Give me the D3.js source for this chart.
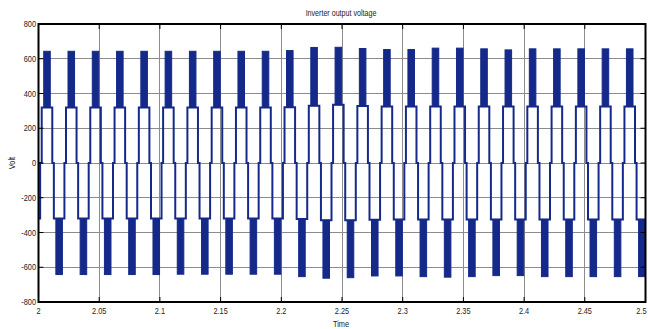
<!DOCTYPE html>
<html>
<head>
<meta charset="utf-8">
<script src="https://cdn.jsdelivr.net/npm/d3@7"></script>
<style>
html,body{margin:0;padding:0;background:#fff;}
svg{display:block;}
text{font-family:"Liberation Sans",Arial,sans-serif;fill:#222;}
</style>
</head>
<body>
<div id="chart"></div>
<script>
// ---- data ----
const xTicks = [2, 2.05, 2.1, 2.15, 2.2, 2.25, 2.3, 2.35, 2.4, 2.45, 2.5];
const xTickLabels = ["2","2.05","2.1","2.15","2.2","2.25","2.3","2.35","2.4","2.45","2.5"];
const yTicks = [-800,-600,-400,-200,0,200,400,600,800];
const yTickLabels = ["-800","-600","-400","-200","0","200","400","600","800"];

// centres (s) of positive half-cycle pulses
const posCenters = [2.007,2.027,2.047,2.067,2.087,2.107,2.127,2.147,2.167,2.187,2.207,2.227,2.247,
                    2.267,2.287,2.307,2.327,2.347,2.367,2.387,2.407,2.427,2.447,2.467,2.487];
const posStep = [320,320,320,320,320,320,320,320,320,320,321,330,335,
                 328,325,325,325,325,325,325,325,325,325,325,325];
const posPeak = [643,643,643,643,643,643,643,643,643,643,647,665,666,
                 659,653,653,661,661,657,651,657,657,657,657,657];

// centres (s) of negative half-cycle pulses
const negCenters = [1.997,2.017,2.037,2.057,2.077,2.097,2.117,2.137,2.157,2.177,2.197,2.217,2.237,
                    2.257,2.277,2.297,2.317,2.337,2.357,2.377,2.397,2.417,2.437,2.457,2.477,2.497];
const negStep = [-320,-320,-320,-320,-320,-320,-320,-320,-320,-320,-320,-322,-330,
                 -330,-326,-325,-325,-325,-325,-325,-325,-325,-325,-325,-325,-325];
const negPeak = [-642,-642,-642,-642,-642,-642,-640,-640,-640,-640,-640,-654,-663,
                 -660,-650,-650,-654,-657,-654,-648,-648,-654,-654,-654,-654,-654];

// switching pattern (s): half width of the +-320 step and of the PWM band
const stepHalfWidth = 0.00435;
const bandHalfWidth = 0.0027;

// ---- chart ----
const W = 648, H = 329;
const L = 38.5, R = 645.5, T = 24, B = 302;
const color = "#15298a";

const svg = d3.select("#chart").append("svg").attr("width", W).attr("height", H);
const x = d3.scaleLinear().domain([2, 2.5]).range([L, R]);
const y = d3.scaleLinear().domain([-800, 800]).range([B, T]);

// grid
const grid = svg.append("g");
grid.selectAll("line.gx").data(xTicks.slice(1, -1)).enter().append("line")
  .attr("x1", d => x(d)).attr("x2", d => x(d)).attr("y1", T).attr("y2", B)
  .attr("stroke", "#8c8c8c").attr("stroke-width", 1).attr("shape-rendering","crispEdges");
grid.selectAll("line.gy").data(yTicks.slice(1, -1)).enter().append("line")
  .attr("x1", L).attr("x2", R).attr("y1", d => y(d)).attr("y2", d => y(d))
  .attr("stroke", "#8c8c8c").attr("stroke-width", 1).attr("shape-rendering","crispEdges");

// clip
svg.append("clipPath").attr("id", "clip").append("rect")
  .attr("x", L).attr("y", T).attr("width", R - L).attr("height", B - T);

const pulses = [];
posCenters.forEach((c, i) => pulses.push({c, step: posStep[i], peak: posPeak[i]}));
negCenters.forEach((c, i) => pulses.push({c, step: negStep[i], peak: negPeak[i]}));
pulses.sort((a, b) => a.c - b.c);

const pts = [];
pulses.forEach(p => {
  pts.push([p.c - stepHalfWidth, 0]);
  pts.push([p.c - stepHalfWidth, p.step]);
  pts.push([p.c + stepHalfWidth, p.step]);
  pts.push([p.c + stepHalfWidth, 0]);
});

const plot = svg.append("g").attr("clip-path", "url(#clip)");
plot.append("path")
  .attr("d", d3.line().x(d => x(d[0])).y(d => y(d[1]))(pts))
  .attr("fill", "none").attr("stroke", color).attr("stroke-width", 2)
  .attr("stroke-linejoin", "miter");

plot.selectAll("rect.band").data(pulses).enter().append("rect")
  .attr("x", d => x(d.c - bandHalfWidth))
  .attr("width", d => x(d.c + bandHalfWidth) - x(d.c - bandHalfWidth))
  .attr("y", d => y(Math.max(d.step, d.peak)))
  .attr("height", d => Math.abs(y(d.peak) - y(d.step)))
  .attr("fill", color).attr("stroke", color).attr("stroke-width", 1);

// ticks (inward)
const tk = svg.append("g").attr("stroke", "#000").attr("stroke-width", 1);
xTicks.forEach(v => {
  tk.append("line").attr("x1", x(v)).attr("x2", x(v)).attr("y1", B).attr("y2", B - 5);
  tk.append("line").attr("x1", x(v)).attr("x2", x(v)).attr("y1", T).attr("y2", T + 5);
});
yTicks.forEach(v => {
  tk.append("line").attr("x1", L).attr("x2", L + 5).attr("y1", y(v)).attr("y2", y(v));
  tk.append("line").attr("x1", R).attr("x2", R - 5).attr("y1", y(v)).attr("y2", y(v));
});

// frame
svg.append("rect").attr("x", L).attr("y", T).attr("width", R - L).attr("height", B - T)
  .attr("fill", "none").attr("stroke", "#000").attr("stroke-width", 2);

// labels
function txt(tx, ty, s, anchor, rot) {
  svg.append("text")
    .attr("transform", `translate(${tx},${ty})` + (rot ? ` rotate(${rot})` : "") + " scale(0.82,1)")
    .attr("text-anchor", anchor).attr("font-size", 9).text(s);
}
xTicks.forEach((v, i) => {
  const last = i === xTicks.length - 1;
  txt(last ? W - 1.5 : x(v), 314, xTickLabels[i], last ? "end" : "middle");
});
yTicks.forEach((v, i) => txt(L - 2.5, y(v) + 3.2, yTickLabels[i], "end"));

svg.append("text").attr("transform", `translate(341,16.3) scale(0.79,1)`)
  .attr("text-anchor", "middle").attr("font-size", 9).text("Inverter output voltage");
svg.append("text").attr("transform", `translate(341,327) scale(0.82,1)`)
  .attr("text-anchor", "middle").attr("font-size", 9).text("Time");
svg.append("text").attr("transform", `translate(15,163) rotate(-90) scale(0.82,1)`)
  .attr("text-anchor", "middle").attr("font-size", 9).text("Volt");
</script>
</body>
</html>
